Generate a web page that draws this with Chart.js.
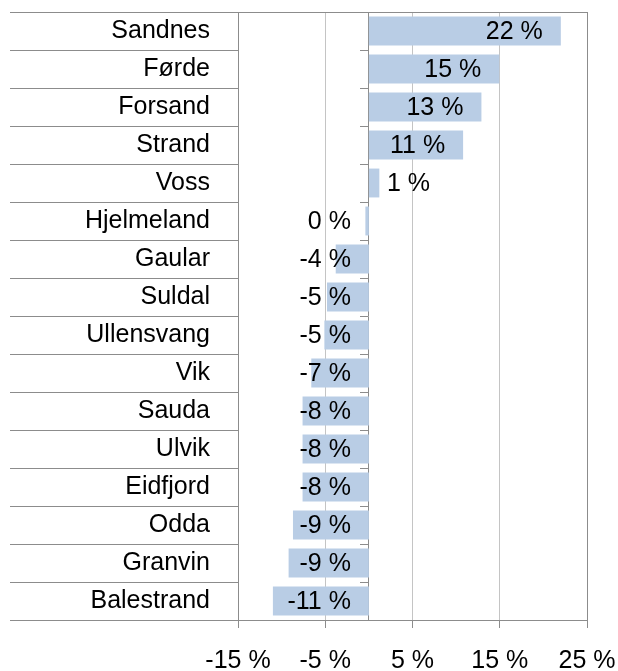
<!DOCTYPE html>
<html>
<head>
<meta charset="utf-8">
<script src="https://cdn.jsdelivr.net/npm/chart.js@4.4.0/dist/chart.umd.min.js"></script>
<style>
  html, body { margin: 0; padding: 0; background: #fff; }
  #wrap { width: 618px; height: 671px; }
</style>
</head>
<body>
<div id="wrap"><canvas id="chart"></canvas></div>
<script>
// kommuner og endring i prosent
const kommuner = ['Sandnes', 'Førde', 'Forsand', 'Strand', 'Voss', 'Hjelmeland', 'Gaular', 'Suldal',
  'Ullensvang', 'Vik', 'Sauda', 'Ulvik', 'Eidfjord', 'Odda', 'Granvin', 'Balestrand'];
const endring = [22.0, 14.95, 12.9, 10.8, 1.2, -0.4, -3.8, -4.8, -5.1, -6.6, -7.6, -7.6, -7.6, -8.7, -9.2, -11.0];
const xTicks = [-15, -5, 5, 15, 25];

const fontFam = '"Liberation Sans", Arial, sans-serif';
const strek = '#8c8c8c';
const gridGraa = '#c4c4c4';

const fmt = v => {
  let r = Math.round(v);
  if (r === 0) r = 0;
  return r + ' %';
}

// etiketter på stolpene
const verdiEtiketter = {
  id: 'verdiEtiketter',
  afterDraw(chart) {
    const ctx = chart.ctx;
    const x0 = chart.scales.x.getPixelForValue(0);
    const meta = chart.getDatasetMeta(0);
    ctx.save();
    ctx.font = '25px ' + fontFam;
    ctx.fillStyle = '#000';
    ctx.textBaseline = 'middle';
    ctx.textAlign = 'left';
    meta.data.forEach((bar, i) => {
      const v = endring[i];
      const txt = fmt(v);
      const w = ctx.measureText(txt).width;
      let left;
      if (v < 0) left = x0 - 18 - w;
      else left = Math.max(x0 + 18, bar.x - 18 - w);
      ctx.fillText(txt, left, bar.y + 1);
    });
    ctx.restore();
  }
};

const ingenSidepadding = s => { s.paddingLeft = 0; s.paddingRight = 0; };

new Chart(document.getElementById('chart'), {
  type: 'bar',
  data: {
    labels: kommuner,
    datasets: [{
      data: endring,
      backgroundColor: '#b9cde5',
      borderWidth: 0,
      barPercentage: 0.76,
      categoryPercentage: 1
    }]
  },
  options: {
    indexAxis: 'y',
    responsive: true,
    maintainAspectRatio: false,
    animation: false,
    events: [],
    layout: { padding: { left: 10, right: 31, top: 12, bottom: 0 } },
    plugins: {
      legend: { display: false },
      tooltip: { enabled: false }
    },
    scales: {
      x: {
        type: 'linear',
        min: -15,
        max: 25,
        afterBuildTicks: s => { s.ticks = xTicks.map(v => ({ value: v })); },
        afterFit: s => { s.height = 51; ingenSidepadding(s); },
        ticks: {
          callback: v => v + ' %',
          font: { size: 25, family: fontFam },
          color: '#000',
          padding: 18,
          maxRotation: 0
        },
        grid: {
          color: c => (c.tick && (c.tick.value === 25 || c.tick.value === -15)) ? strek : gridGraa,
          tickColor: strek,
          tickLength: 8
        },
        border: { display: true, color: strek }
      },
      x2: {
        type: 'linear',
        position: 'top',
        min: -15,
        max: 25,
        afterFit: s => { s.height = 0; ingenSidepadding(s); },
        ticks: { display: false },
        grid: { display: false, drawTicks: false },
        border: { display: true, color: strek }
      },
      y: {
        type: 'category',
        afterFit: s => { s.width = 228; },
        ticks: {
          font: { size: 25, family: fontFam },
          color: '#000',
          padding: -200,
          autoSkip: false
        },
        grid: {
          offset: true,
          drawOnChartArea: false,
          tickLength: 228,
          tickColor: strek
        },
        border: { display: true, color: strek }
      },
      y2: {
        type: 'category',
        axis: 'y',
        position: { x: 0 },
        z: 1,
        ticks: { display: false },
        grid: {
          offset: true,
          drawOnChartArea: false,
          tickLength: 8,
          tickColor: strek
        },
        border: { display: true, color: strek }
      }
    }
  },
  plugins: [verdiEtiketter]
});
</script>
</body>
</html>
